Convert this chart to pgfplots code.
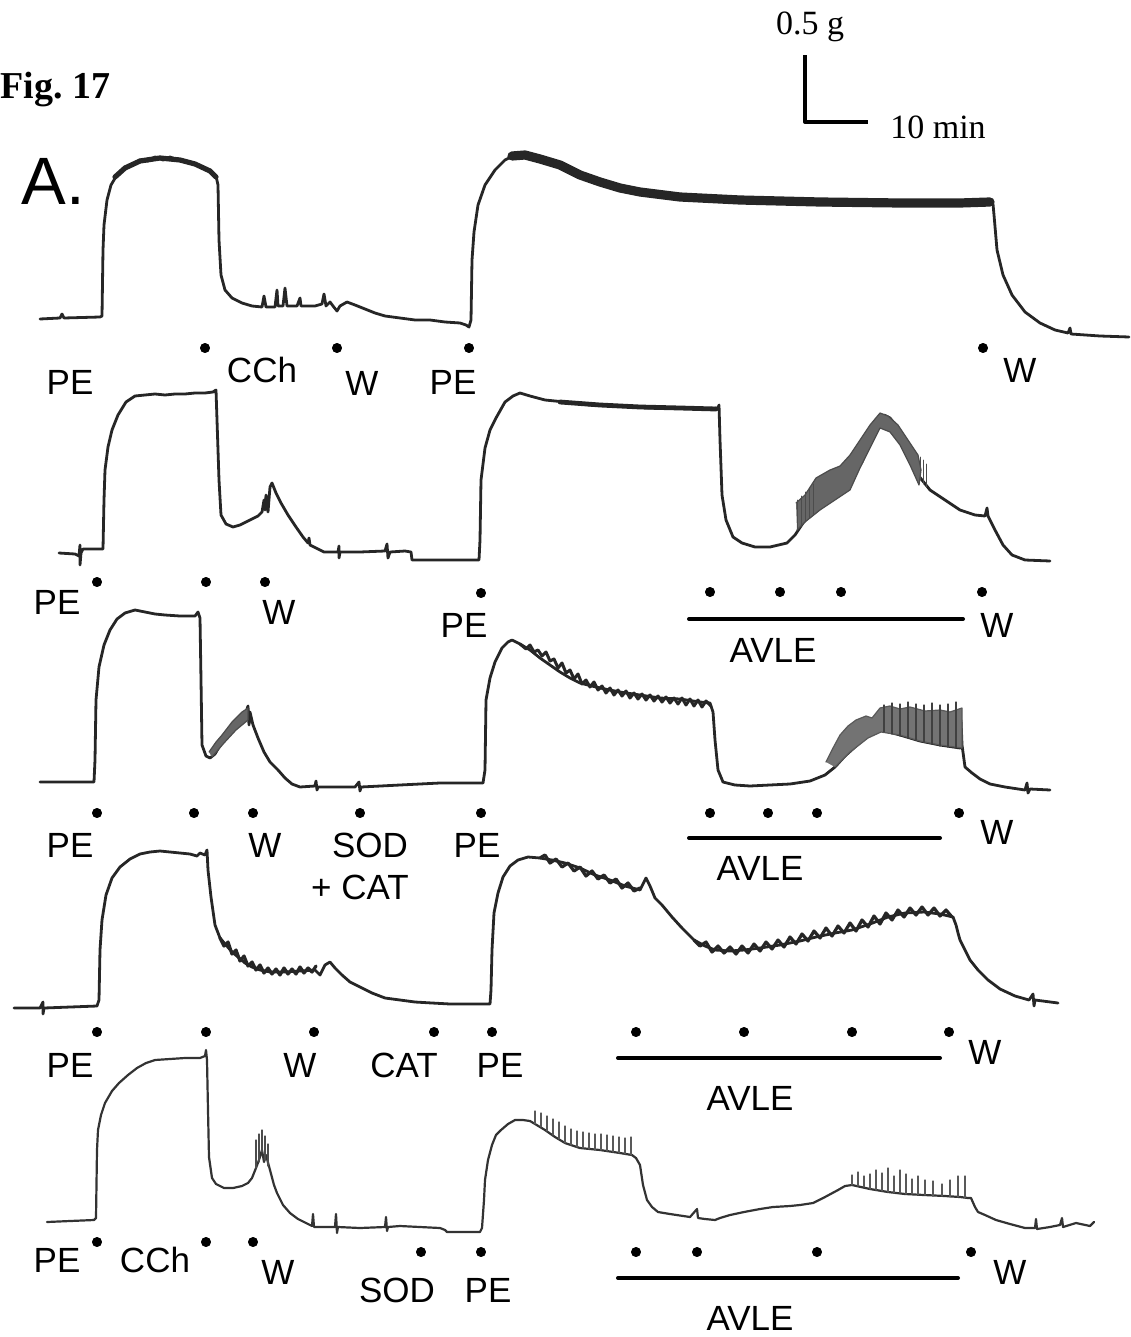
\documentclass[border=0pt]{standalone}
\usepackage{pgfplots}
\pgfplotsset{compat=1.18}
\usepackage{fontspec}
\setmainfont{Liberation Serif}
\newfontfamily\lsans{Liberation Sans}
\newcommand{\lab}{\lsans\fontsize{17.5}{20}\selectfont}
\begin{document}
\begin{tikzpicture}
\begin{axis}[
  width=564.5pt, height=668.5pt, scale only axis,
  xmin=0, xmax=1129, ymin=0, ymax=1337, y dir=reverse,
  axis lines=none, clip=false, unbounded coords=jump,
  every axis plot/.append style={line join=round, line cap=round},
]
\addplot[draw=none] coordinates {(0,0) (1129,1337)};
% ---------------- header ----------------
\addplot[black, line width=2pt, line cap=rect] coordinates {(805,57) (805,122) (866,122)};
\node at (axis cs:810,27) {\fontsize{17}{20}\selectfont 0.5 g};
\node at (axis cs:938,127) {\fontsize{17}{20}\selectfont 10 min};
\node[anchor=west, inner sep=0pt] at (axis cs:0,90) {\fontsize{19}{22}\selectfont\bfseries Fig.\ 17};
\node at (axis cs:53,181) {\lsans\fontsize{33.5}{36}\selectfont A.};
% ---------------- trace 1 ----------------
\addplot[black!85, line width=1.4pt] coordinates {
(40,319) (60,318) (62,314) (64,318) (100,317) (102,316) (103,250) (104,225) (107,200) (111,185) (117,175) (125,168) (133,164) (140,160) (148,161) (155,157) (163,160) (170,157) (178,160) (186,161) (194,164) (202,167) (210,171) (216,176) (218,185) (219,240) (221,275) (225,290) (232,298) (242,303) (252,306) (262,307) (264,296) (266,307) (275,307) (277,290) (278,306) (283,306) (285,288) (287,306) (297,306) (300,298) (301,306) (315,306) (322,304) (324,294) (326,306) (330,302) (333,306) (337,311) (340,306) (347,302) (355,305) (365,309) (375,313) (385,316) (400,318) (415,320) (430,320) (445,322) (460,323) (466,325) (469,327)
(471,320) (472,260) (474,232) (478,205) (485,185) (495,170) (505,160) (515,155) (525,155) (540,158) (555,163) (570,170) (585,177) (600,182) (620,188) (640,192) (660,195) (680,197) (700,198) (740,200) (780,201) (820,202) (860,203) (900,203) (940,204) (960,203) (990,202) (993,204) (994,215) (997,250) (1003,275) (1012,295) (1025,312) (1040,323) (1055,330) (1068,333) (1070,328) (1071,334) (1100,336) (1129,337)};
\addplot[black!85, line width=2.6pt] coordinates {(115,177) (125,168) (140,161) (160,158) (180,160) (195,164) (210,171) (216,177)};
\addplot[black!85, line width=4.6pt] coordinates {(512,156) (525,155) (540,159) (560,165) (580,175) (600,182) (620,188) (640,192) (680,197) (740,200) (820,202) (900,203) (960,203) (990,202)};
% ---------------- trace 2 ----------------
\addplot[black!85, line width=1.4pt] coordinates {
(59,553) (75,554) (79,556) (80,545) (80,565) (81,553) (83,549) (103,549) (104,500) (105,470) (108,447) (112,430) (118,415) (126,402) (135,396) (145,395) (155,394) (165,395) (175,394) (185,394) (195,393) (205,393) (213,392) (216,390) (217,420) (219,480) (221,515) (226,524) (233,527) (240,525) (250,520) (258,516) (262,512) (264,500) (265,510) (266,495) (268,512) (270,487) (272,483) (276,493) (281,503) (288,515) (296,527) (303,537) (308,543) (309,538) (310,545) (316,548) (324,552) (338,552) (339,546) (339,558) (340,552) (360,552) (385,551) (387,544) (388,558) (390,552) (405,551) (411,552) (412,560) (440,560) (479,560) (480,540) (481,480) (485,448) (490,430) (496,418) (505,402) (513,396) (520,393) (530,396) (545,400) (565,402) (590,405) (620,406) (650,408) (680,408) (700,409) (718,408) (719,405) (720,440) (722,495) (726,520) (733,537) (742,543) (755,547) (770,547) (787,543) (795,535) (805,520) (823,505) (845,490) (862,462) (875,430) (884,415) (890,418) (898,428) (908,450) (918,475) (930,490) (945,500) (960,510) (975,515) (985,516) (987,508) (988,516) (995,530) (1003,545) (1012,555) (1025,560) (1050,561)};
\addplot[black!85, line width=2.4pt] coordinates {(560,402) (600,405) (640,407) (680,408) (716,409)};
\addplot[black!70, fill=black!60, line width=0.6pt] coordinates {
(796,503) (805,495) (816,478) (830,470) (840,466) (850,455) (860,440) (870,425) (880,413) (888,416) (898,425) (908,440) (918,455) (921,470) (919,485) (910,465) (900,445) (890,432) (880,428) (870,448) (860,468) (850,490) (835,500) (820,510) (805,522) (797,530)};
\addplot[black!70, line width=0.5pt] coordinates {
(797,500) (797,530) (nan,nan) (801,496) (801,526) (nan,nan) (805,492) (805,522) (nan,nan) (809,488) (809,518) (nan,nan) (813,484) (813,514) (nan,nan) (920,457) (920,480) (nan,nan) (923,460) (923,484) (nan,nan) (926,464) (926,487)};
% ---------------- trace 3 ----------------
\addplot[black!85, line width=1.4pt] coordinates {
(40,782) (60,782) (94,782) (95,760) (96,700) (99,667) (104,645) (110,630) (117,619) (125,613) (135,610) (145,612) (155,614) (165,615) (180,616) (195,616) (198,612) (200,618) (201,680) (202,745) (206,756) (210,758) (215,754) (222,742) (230,728) (238,720) (245,715) (248,706) (249,725) (250,712) (253,725) (258,738) (264,752) (270,762) (278,770) (285,778) (292,784) (300,787) (315,786) (316,781) (317,790) (318,787) (355,787) (359,782) (360,791) (361,787) (400,785) (440,783) (483,783) (485,770) (486,700) (490,678) (495,662) (502,648) (508,642) (512,640) (520,644) (530,650) (540,658) (550,665) (560,672) (570,678) (580,683) (600,688) (620,692) (640,695) (660,698) (680,699) (700,702) (710,703) (713,712) (715,740) (718,770) (723,782) (735,785) (750,786) (770,785) (790,784) (810,781) (825,775) (835,767) (845,756) (855,747) (863,740) (870,732) (881,730) (900,735) (920,741) (940,745) (960,748) (961,720) (962,745) (965,767) (972,773) (980,779) (990,784) (1005,787) (1025,790) (1027,783) (1028,793) (1030,789) (1050,790)};
\addplot[black!85, line width=1.5pt] coordinates {
(520,644) (526,649) (530,645) (534,652) (538,650) (542,656) (546,652) (550,661) (554,659) (558,668) (562,663) (566,673) (570,670) (574,679) (578,674) (582,684) (586,680) (590,687) (594,682) (598,690) (602,686) (606,693) (610,688) (614,695) (618,690) (622,696) (626,691) (630,698) (634,693) (638,699) (642,694) (646,700) (650,695) (654,701) (658,696) (662,702) (666,697) (670,703) (674,698) (678,704) (682,698) (686,705) (690,699) (694,706) (698,700) (702,707) (706,701) (711,706)};
\addplot[black!70, fill=black!60, line width=0.6pt] coordinates {
(209,752) (216,742) (222,735) (232,722) (242,712) (248,708) (248,720) (236,730) (224,743) (212,757)};
\addplot[black!65, fill=black!55, line width=0.6pt] coordinates {
(826,762) (833,748) (840,735) (848,726) (856,720) (866,716) (872,718) (880,708) (890,706) (900,709) (910,707) (925,711) (940,710) (950,712) (962,708) (962,748) (940,745) (920,741) (900,735) (881,732) (868,738) (850,752) (835,767)};
\addplot[black!75, line width=0.6pt] coordinates {
(884,705) (884,732) (nan,nan) (892,703) (892,734) (nan,nan) (900,704) (900,736) (nan,nan) (908,702) (908,738) (nan,nan) (916,704) (916,740) (nan,nan) (924,705) (924,742) (nan,nan) (932,703) (932,744) (nan,nan) (940,705) (940,746) (nan,nan) (948,704) (948,747) (nan,nan) (956,702) (956,748)};
% ---------------- trace 4 ----------------
\addplot[black!85, line width=1.4pt] coordinates {
(14,1008) (40,1008) (43,1002) (43,1014) (44,1008) (97,1006) (99,1000) (100,950) (102,920) (106,895) (112,878) (120,867) (130,859) (140,854) (150,852) (160,851) (170,852) (180,853) (190,854) (197,856) (200,853) (205,855) (207,850) (208,870) (211,897) (215,925) (220,938) (226,945) (232,952) (238,957) (245,963) (252,967) (260,970) (270,972) (285,972) (300,971) (315,970) (320,975) (325,965) (330,962) (335,968) (342,975) (350,982) (360,987) (372,993) (385,998) (400,1000) (415,1002) (432,1003) (450,1004) (470,1004) (490,1004) (491,990) (492,950) (494,913) (498,893) (503,877) (510,866) (518,860) (528,857) (540,858) (552,860) (565,863) (580,868) (595,875) (610,880) (625,886) (640,890) (646,878) (650,886) (655,898) (662,905) (672,917) (682,928) (694,940) (705,946) (715,950) (730,951) (744,950) (760,948) (780,945) (800,941) (816,937) (835,933) (852,930) (870,924) (888,917) (905,913) (924,912) (940,914) (953,917) (956,925) (958,933) (960,940) (965,950) (970,960) (978,970) (988,980) (1000,989) (1015,996) (1029,1000) (1033,994) (1034,1006) (1035,1000) (1058,1003)};
\addplot[black!85, line width=1.6pt] coordinates {
(220,938) (224,946) (228,942) (232,954) (236,950) (240,961) (244,956) (248,966) (252,962) (256,970) (260,965) (264,973) (268,968) (272,974) (276,969) (280,975) (284,968) (288,974) (292,969) (296,974) (300,967) (304,973) (308,968) (312,972) (316,966)};
\addplot[black!85, line width=1.6pt] coordinates {
(540,858) (545,855) (550,863) (556,859) (562,867) (568,863) (574,871) (580,867) (586,876) (592,871) (598,879) (604,875) (610,883) (616,879) (622,888) (628,883) (634,891) (640,888)};
\addplot[black!85, line width=1.6pt] coordinates {
(694,940) (700,946) (706,942) (712,952) (718,946) (724,953) (730,947) (736,954) (742,946) (748,953) (754,944) (760,951) (766,942) (772,949) (778,940) (784,947) (790,937) (796,944) (802,934) (808,941) (814,931) (820,938) (826,928) (832,936) (838,926) (844,933) (850,923) (856,931) (862,920) (868,927) (874,916) (880,924) (886,913) (892,920) (898,910) (904,917) (910,908) (916,915) (922,907) (928,915) (934,908) (940,916) (946,910) (952,917)};
% ---------------- trace 5 ----------------
\addplot[black!80, line width=1.1pt] coordinates {
(47,1222) (70,1221) (94,1220) (96,1218) (97,1150) (98,1130) (101,1115) (105,1103) (112,1091) (119,1083) (128,1075) (137,1068) (146,1063) (155,1060) (170,1059) (185,1058) (200,1058) (205,1056) (206,1050) (207,1060) (208,1110) (209,1157) (212,1178) (216,1184) (224,1188) (233,1188) (242,1186) (248,1183) (252,1178) (256,1168) (259,1160) (262,1150) (264,1162) (266,1155) (270,1170) (274,1185) (277,1193) (283,1205) (290,1213) (298,1219) (306,1223) (312,1226) (313,1214) (314,1227) (335,1227) (336,1214) (337,1233) (338,1227) (360,1228) (385,1227) (386,1217) (387,1231) (388,1227) (400,1226) (420,1227) (440,1228) (445,1230) (447,1232) (480,1232) (482,1228) (484,1200) (485,1180) (488,1160) (492,1145) (496,1135) (501,1130) (508,1124) (515,1120) (523,1120) (530,1121) (545,1130) (555,1137) (565,1143) (580,1148) (600,1150) (620,1153) (632,1155) (636,1158) (640,1165) (643,1185) (647,1200) (652,1207) (658,1212) (670,1214) (690,1217) (697,1209) (698,1218) (705,1219) (715,1220) (720,1218) (730,1215) (744,1212) (760,1209) (773,1207) (790,1206) (800,1205) (813,1203) (825,1197) (838,1190) (845,1186) (852,1185) (870,1189) (888,1192) (905,1194) (924,1195) (945,1196) (960,1197) (968,1198) (971,1198) (975,1207) (978,1212) (985,1215) (996,1220) (1010,1224) (1025,1228) (1035,1228) (1036,1219) (1037,1229) (1050,1227) (1060,1225) (1062,1218) (1063,1227) (1076,1223) (1090,1226) (1094,1222)};
\addplot[black!70, line width=0.6pt] coordinates {
(256,1168) (256,1140) (nan,nan) (259,1162) (259,1134) (nan,nan) (262,1152) (262,1130) (nan,nan) (265,1160) (265,1136) (nan,nan) (268,1166) (268,1144)};
\addplot[black!65, line width=0.6pt] coordinates {
(535,1124) (535,1111) (nan,nan) (541,1127) (541,1113) (nan,nan) (547,1131) (547,1116) (nan,nan) (553,1135) (553,1119) (nan,nan) (559,1139) (559,1122) (nan,nan) (565,1143) (565,1126) (nan,nan) (571,1145) (571,1129) (nan,nan) (577,1147) (577,1131) (nan,nan) (583,1148) (583,1132) (nan,nan) (589,1149) (589,1133) (nan,nan) (595,1150) (595,1134) (nan,nan) (601,1150) (601,1134) (nan,nan) (607,1151) (607,1135) (nan,nan) (613,1152) (613,1136) (nan,nan) (619,1153) (619,1137) (nan,nan) (625,1154) (625,1138) (nan,nan) (631,1155) (631,1137)};
\addplot[black!65, line width=0.6pt] coordinates {
(852,1185) (852,1175) (nan,nan) (858,1186) (858,1172) (nan,nan) (864,1187) (864,1176) (nan,nan) (870,1189) (870,1174) (nan,nan) (876,1190) (876,1170) (nan,nan) (882,1191) (882,1173) (nan,nan) (888,1192) (888,1168) (nan,nan) (894,1193) (894,1176) (nan,nan) (900,1193) (900,1170) (nan,nan) (906,1194) (906,1174) (nan,nan) (912,1194) (912,1179) (nan,nan) (918,1195) (918,1176) (nan,nan) (925,1195) (925,1180) (nan,nan) (933,1196) (933,1181) (nan,nan) (942,1196) (942,1184) (nan,nan) (950,1197) (950,1180) (nan,nan) (958,1197) (958,1176) (nan,nan) (965,1198) (965,1176)};
% ---------------- dots ----------------
\addplot[only marks, mark=*, mark size=2.3pt, black] coordinates {
(205,348) (337,348) (469,348) (983,348)
(97,582) (206,582) (265,582) (481,593) (710,592) (780,592) (841,592) (982,592)
(97,813) (194,813) (253,813) (360,813) (481,813) (710,813) (768,813) (817,813) (959,813)
(97,1032) (206,1032) (314,1032) (434,1032) (492,1032) (636,1032) (744,1032) (852,1032) (949,1032)
(97,1242) (206,1242) (253,1242) (421,1252) (481,1252) (636,1252) (697,1252) (817,1252) (971,1252)};
% ---------------- AVLE bars ----------------
\addplot[black, line width=2pt] coordinates {(689,619) (963,619)};
\addplot[black, line width=2pt] coordinates {(689,838) (940,838)};
\addplot[black, line width=2pt] coordinates {(618,1058) (940,1058)};
\addplot[black, line width=2pt] coordinates {(618,1278) (958,1278)};
% ---------------- labels ----------------
\node at (axis cs:70,382) {\lab PE};
\node at (axis cs:262,370) {\lab CCh};
\node at (axis cs:362,383) {\lab W};
\node at (axis cs:453,382) {\lab PE};
\node at (axis cs:1020,370) {\lab W};
\node at (axis cs:57,602) {\lab PE};
\node at (axis cs:279,612) {\lab W};
\node at (axis cs:464,625) {\lab PE};
\node at (axis cs:773,650) {\lab AVLE};
\node at (axis cs:997,625) {\lab W};
\node at (axis cs:70,845) {\lab PE};
\node at (axis cs:265,845) {\lab W};
\node at (axis cs:370,845) {\lab SOD};
\node at (axis cs:360,887) {\lab + CAT};
\node at (axis cs:477,845) {\lab PE};
\node at (axis cs:760,868) {\lab AVLE};
\node at (axis cs:997,832) {\lab W};
\node at (axis cs:70,1065) {\lab PE};
\node at (axis cs:300,1065) {\lab W};
\node at (axis cs:404,1065) {\lab CAT};
\node at (axis cs:500,1065) {\lab PE};
\node at (axis cs:750,1098) {\lab AVLE};
\node at (axis cs:985,1052) {\lab W};
\node at (axis cs:57,1260) {\lab PE};
\node at (axis cs:155,1260) {\lab CCh};
\node at (axis cs:278,1272) {\lab W};
\node at (axis cs:397,1290) {\lab SOD};
\node at (axis cs:488,1290) {\lab PE};
\node at (axis cs:750,1318) {\lab AVLE};
\node at (axis cs:1010,1272) {\lab W};
\end{axis}
\end{tikzpicture}
\end{document}
